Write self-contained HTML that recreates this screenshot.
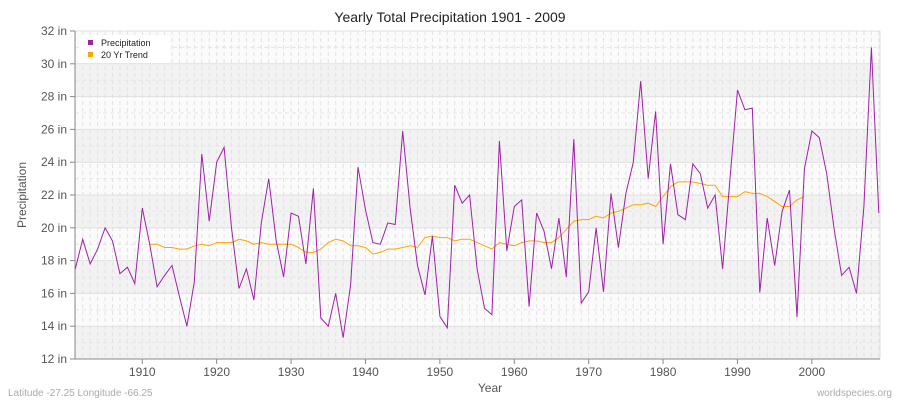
<!DOCTYPE html>
<html><head><meta charset="utf-8"><style>
body{margin:0;background:#fff;}
svg{display:block;font-family:"Liberation Sans","DejaVu Sans",sans-serif;}
</style></head><body>
<svg id="c" width="900" height="400" xmlns="http://www.w3.org/2000/svg"></svg>
<script>
const P=[17.5,19.3,17.8,18.7,20.0,19.2,17.2,17.6,16.6,21.2,19.0,16.4,17.1,17.7,15.8,14.0,16.7,24.5,20.4,24.0,24.9,20.0,16.3,17.5,15.6,20.3,23.0,19.2,17.0,20.9,20.7,17.8,22.4,14.5,14.0,16.0,13.3,16.5,23.7,21.1,19.1,19.0,20.3,20.2,25.9,21.2,17.7,15.9,19.5,14.6,13.9,22.6,21.5,22.0,17.5,15.1,14.7,25.3,18.6,21.3,21.7,15.2,20.9,19.8,17.5,20.6,17.0,25.4,15.4,16.1,20.0,16.1,22.1,18.8,22.1,24.0,28.95,23.0,27.1,19.0,23.9,20.8,20.5,23.9,23.3,21.2,22.0,17.5,23.0,28.4,27.2,27.3,16.05,20.6,17.7,21.0,22.3,14.55,23.6,25.9,25.5,23.3,19.9,17.1,17.6,16.0,21.3,31.0,20.9];
const T=[19.0,19.0,18.8,18.8,18.7,18.7,18.9,19.0,18.9,19.1,19.1,19.1,19.3,19.2,19.0,19.1,19.0,19.0,19.0,19.0,18.8,18.5,18.5,18.7,19.1,19.3,19.2,18.9,18.9,18.8,18.4,18.5,18.7,18.7,18.8,18.9,18.8,19.4,19.5,19.4,19.4,19.2,19.3,19.3,19.1,18.9,18.7,19.1,19.0,18.9,19.1,19.2,19.2,19.1,19.1,19.4,19.9,20.4,20.5,20.5,20.7,20.6,20.9,21.0,21.2,21.4,21.4,21.5,21.3,21.9,22.5,22.8,22.8,22.8,22.7,22.6,22.6,21.9,21.9,21.9,22.2,22.1,22.1,21.9,21.6,21.3,21.3,21.7,21.9];
const L=75,R=880,TOP=31,B=359;
const X=y=>75.3+(y-1901)*7.44, Y=v=>B-(v-12)*16.4;
let s='';
s+=`<rect x="${L}" y="${TOP}" width="${R-L}" height="${B-TOP}" fill="#fbfbfb"/>`;
for(let v=12;v<32;v+=4){s+=`<rect x="${L}" y="${Y(v+2)}" width="${R-L}" height="32.8" fill="#f2f2f2"/>`;}
for(let yr=1901;yr<=2009;yr++){const x=X(yr);s+=`<line x1="${x}" y1="${TOP}" x2="${x}" y2="${B}" stroke="#e2e2e2" stroke-width="1" stroke-dasharray="4,3"/>`;}
for(let v=13;v<32;v+=2){s+=`<line x1="${L}" y1="${Y(v)}" x2="${R}" y2="${Y(v)}" stroke="#e6e6e6" stroke-dasharray="4,3"/>`;}
for(let v=12;v<=32;v+=2){const y=Y(v);s+=`<line x1="${L}" y1="${y}" x2="${R}" y2="${y}" stroke="#e0e0e0"/>`;
s+=`<line x1="${L-5}" y1="${y}" x2="${L}" y2="${y}" stroke="#888"/>`;
s+=`<text x="${L-8}" y="${y+4}" font-size="12" fill="#555" text-anchor="end">${v} in</text>`;}
s+=`<line x1="${R}" y1="${TOP}" x2="${R}" y2="${B}" stroke="#ddd"/>`;
s+=`<line x1="${L}" y1="${TOP}" x2="${L}" y2="${B}" stroke="#888"/>`;
s+=`<line x1="${L}" y1="${B}" x2="${R}" y2="${B}" stroke="#888"/>`;
for(let yr=1910;yr<=2000;yr+=10){const x=X(yr);s+=`<line x1="${x}" y1="${B}" x2="${x}" y2="${B+5}" stroke="#888"/><text x="${x}" y="${B+17}" font-size="12" fill="#555" text-anchor="middle">${yr}</text>`;}
s+=`<polyline fill="none" stroke="#ffa500" stroke-width="1" points="${T.map((v,i)=>X(1911+i).toFixed(1)+','+Y(v).toFixed(1)).join(' ')}"/>`;
s+=`<polyline fill="none" stroke="#a020a8" stroke-width="1" points="${P.map((v,i)=>X(1901+i).toFixed(1)+','+Y(v).toFixed(1)).join(' ')}"/>`;
s+=`<text x="450" y="22" font-size="14" fill="#222" text-anchor="middle">Yearly Total Precipitation 1901 - 2009</text>`;
s+=`<text x="490" y="392" font-size="12" fill="#555" text-anchor="middle">Year</text>`;
s+=`<text transform="translate(26,195) rotate(-90)" font-size="12" fill="#555" text-anchor="middle">Precipitation</text>`;
s+=`<rect x="80" y="35" width="90" height="28" rx="3" fill="#fff" opacity="0.95"/>`;
s+=`<rect x="88" y="40" width="5" height="5" fill="#a020a8"/><text x="101" y="46" font-size="9" fill="#222">Precipitation</text>`;
s+=`<rect x="88" y="52" width="5" height="5" fill="#ffa500"/><text x="101" y="58" font-size="9" fill="#222">20 Yr Trend</text>`;
s+=`<text x="8" y="396" font-size="10" fill="#aaa">Latitude -27.25 Longitude -66.25</text>`;
s+=`<text x="892" y="396" font-size="10" fill="#aaa" text-anchor="end">worldspecies.org</text>`;
document.getElementById('c').innerHTML=s;
</script>
</body></html>
